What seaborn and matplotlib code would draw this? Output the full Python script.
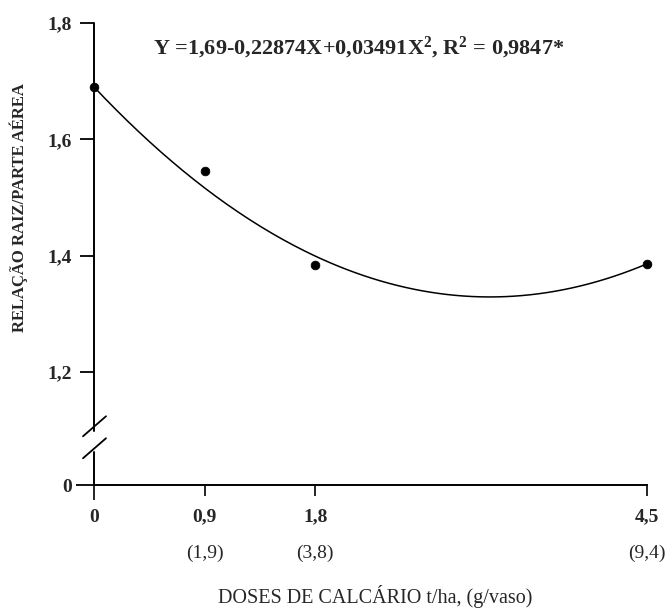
import numpy as np
import pandas as pd
import matplotlib
matplotlib.use("Agg")
import matplotlib.pyplot as plt
import matplotlib.transforms as mtrans
import seaborn as sns

# ---- data ----
doses = [0.0, 0.9, 1.8, 4.5]                 # t/ha
dose_labels = ["0", "0,9", "1,8", "4,5"]
vaso_labels = ["", "(1,9)", "(3,8)", "(9,4)"]  # g/vaso
ratio = [1.690, 1.545, 1.384, 1.385]          # relação raiz/parte aérea
# quadratic trend as drawn in the figure
curve_coef = [1.69, -0.2242, 0.0348]
y_ticks = [1.2, 1.4, 1.6, 1.8]
y_tick_labels = ["1,2", "1,4", "1,6", "1,8"]
equation = "Y =1,69-0,22874X+0,03491X$^{2}$, R$^{2}$ = 0,9847*"

sns.set_style("ticks")
plt.rcParams["font.family"] = ["Liberation Serif", "DejaVu Serif"]
plt.rcParams["mathtext.fontset"] = "custom"
plt.rcParams["mathtext.rm"] = "Liberation Serif:bold"
plt.rcParams["mathtext.it"] = "Liberation Serif:bold"
plt.rcParams["mathtext.bf"] = "Liberation Serif:bold"

fig = plt.figure(figsize=(6.68, 6.09), dpi=100)
ax = fig.add_axes([94 / 668, 1 - 485 / 609, 553 / 668, 462 / 609])

y0 = 1.0055  # position representing "0" below the axis break
xmax = max(doses)

pts = pd.DataFrame({"dose": doses, "ratio": ratio})
xs = np.linspace(0, xmax, 200)
curve = pd.DataFrame({"dose": xs,
                      "ratio": curve_coef[0] + curve_coef[1] * xs + curve_coef[2] * xs ** 2})

sns.lineplot(data=curve, x="dose", y="ratio", ax=ax, color="black", lw=1.1, clip_on=False)
sns.scatterplot(data=pts, x="dose", y="ratio", ax=ax, color="black", edgecolor="black",
                s=40, zorder=5, clip_on=False)

ax.set_xlim(0, xmax)
ax.set_ylim(y0, 1.8)

# spines
for s in ["top", "right", "left"]:
    ax.spines[s].set_visible(False)
ax.spines["bottom"].set_linewidth(1.4)
ax.spines["bottom"].set_color("black")

# broken left axis
yb_hi, yb_lo = 1.098, 1.062
ax.plot([0, 0], [yb_hi, 1.8], color="black", lw=1.4, clip_on=False)
ax.plot([0, 0], [y0, yb_lo], color="black", lw=1.4, clip_on=False)
dx = 4.5 / 553
for yc in [1.1065, 1.0687]:
    ax.plot([-11 * dx, 12 * dx], [yc - 0.0172, yc + 0.0172], color="black", lw=1.3, clip_on=False)

# y ticks
ax.set_yticks([y0] + y_ticks)
ax.set_yticklabels(["0"] + y_tick_labels, fontsize=14, fontweight="bold")
ax.tick_params(axis="y", length=10, width=1.3, pad=6, color="black", direction="out")
ax.yaxis.get_major_ticks()[0].tick1line.set_markersize(13)

# x ticks
ax.set_xticks(doses)
ax.set_xticklabels(dose_labels, fontsize=14, fontweight="bold")
ax.tick_params(axis="x", length=8, width=1.2, pad=9, color="black", direction="out")
ax.xaxis.get_major_ticks()[0].tick1line.set_markersize(11)

trans = mtrans.blended_transform_factory(ax.transData, fig.transFigure)
for x, lab in zip(doses, vaso_labels):
    if lab:
        fig.text(x, 1 - 553 / 609, lab, transform=trans, fontsize=14, ha="center", va="center")

ax.set_xlabel("")
ax.set_ylabel("")
fig.text(375 / 668, 1 - 596 / 609, "DOSES DE CALCÁRIO t/ha, (g/vaso)", fontsize=14.5,
         ha="center", va="center")
fig.text(19 / 668, 1 - 208 / 609, "RELAÇÃO RAIZ/PARTE AÉREA", fontsize=12, fontweight="bold",
         rotation=90, ha="center", va="center")

fig.text(153 / 668, 1 - 48 / 609, equation, fontsize=16, fontweight="bold", ha="left", va="center")

fig.savefig("out.png", dpi=100, facecolor="white")
